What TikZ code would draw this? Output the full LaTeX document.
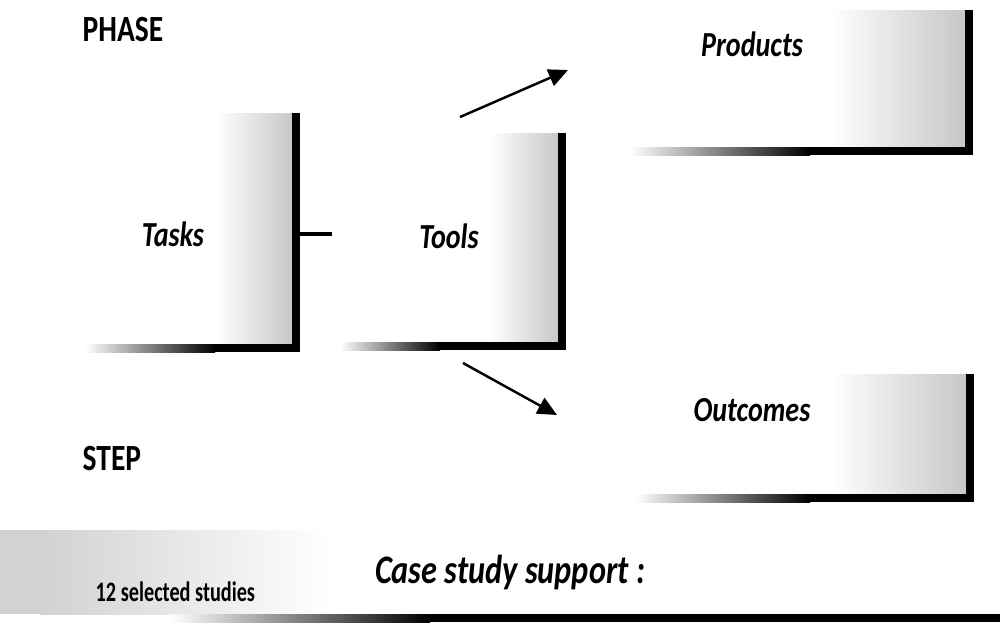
\documentclass[tikz,border=0pt]{standalone}
\usepackage{fontspec}
\usepackage{tikz}
\usetikzlibrary{arrows.meta,positioning,calc}
\newfontfamily\labfont[FakeStretch=0.8]{Carlito}
\newfontfamily\notefont[FakeStretch=0.72]{Carlito}
\definecolor{pgray}{HTML}{9A9A9A}
\tikzset{
  lab/.style={font=\labfont\bfseries\itshape\fontsize{10}{12}\selectfont,inner sep=0pt},
  head/.style={font=\labfont\bfseries\fontsize{10.5}{12}\selectfont,inner sep=0pt,anchor=base west},
  small/.style={font=\notefont\bfseries\fontsize{8}{10}\selectfont,inner sep=0pt,anchor=base west},
  big/.style={font=\labfont\bfseries\itshape\fontsize{11.5}{14}\selectfont,inner sep=0pt},
  dots/.style={left color=white,right color=pgray!55},
  fade/.style={left color=white,right color=black},
  arr/.style={-{Triangle[length=5.5pt,width=5pt]},line width=0.7pt},
  link/.style={line width=1.2pt},
}
\begin{document}
\begin{tikzpicture}[x=0.01cm,y=-0.01cm]
  \useasboundingbox (0,0) rectangle (1000,632);
  \foreach \l/\t/\s/\r/\b/\f in {85/113/215/300/352/215, 340/133/490/566/350/440,
                                  630/10/830/973/155/810, 635/374/830/974/502/810} {
    \shade[dots] (\s,\t) rectangle (\r-8,\b-8);
    \shade[fade] (\l,\b-8) rectangle (\f,\b);
    \fill (\f-0.5,\b-8) rectangle (\r,\b);
    \fill (\r-8,\t) rectangle (\r,\b);
  }
  \fill[pgray!45] (0,530) rectangle (40,614);
  \shade[left color=pgray!45,right color=white] (40,530) rectangle (330,614);
  \shade[fade] (170,614) rectangle (430,622);
  \fill (429.5,614) rectangle (1000,622);

  \node[head] (phase) at (82,41) {PHASE};
  \node[head] (step) at (82,470) {STEP};
  \node[lab] (tasks) at (173,234) {Tasks};
  \node[lab] (tools) at (449,236) {Tools};
  \node[lab] (prod) at (752,44) {Products};
  \node[lab] (outc) at (752,410) {Outcomes};
  \node[big] (case) at (510,572) {Case study support :};
  \node[small] (sel) at (95,601) {12 selected studies};

  \coordinate (tbar) at (300,234);
  \coordinate (tend) at (332,234);
  \coordinate (upa) at (460,117);
  \coordinate (upb) at (568,70);
  \coordinate (dna) at (463,363);
  \coordinate (dnb) at (557,415);
  \draw[link] (tbar) -- (tend);
  \draw[arr] (upa) -- (upb);
  \draw[arr] (dna) -- (dnb);
\end{tikzpicture}
\end{document}
